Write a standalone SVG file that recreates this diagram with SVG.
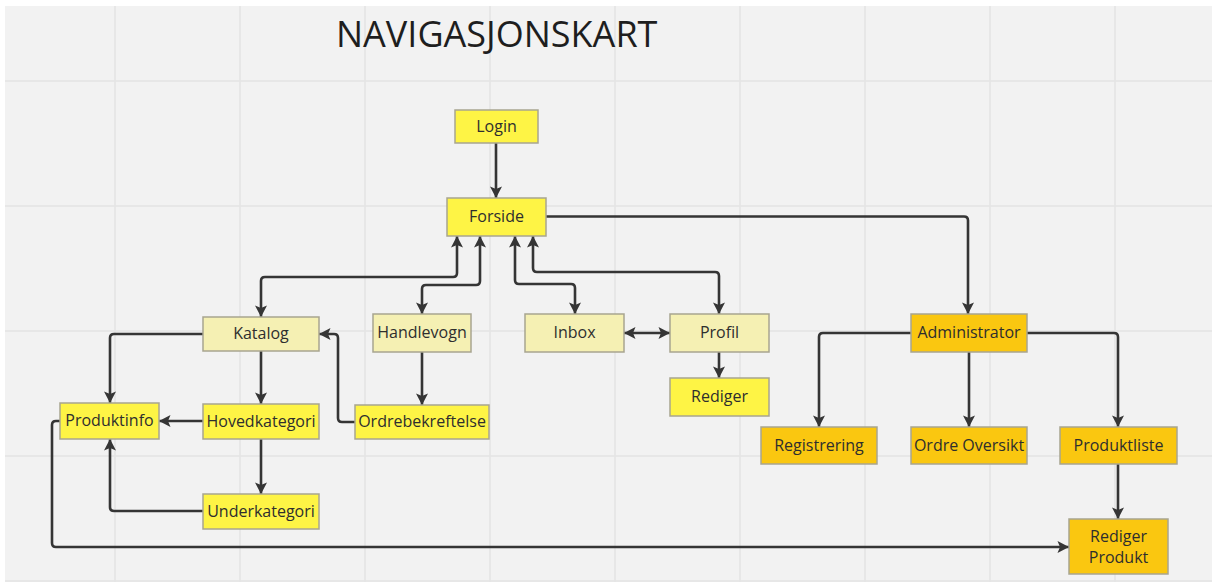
<svg xmlns="http://www.w3.org/2000/svg" width="1212" height="588" viewBox="0 0 1212 588">
<defs>
<style>
.bg{fill:#f2f2f2}
.grid{stroke:#e4e4e4;stroke-width:1.5}
.n rect{stroke:#a8a590;stroke-width:1.5}
.y rect{fill:#fef445}
.p rect{fill:#f5f0b3}
.o rect{fill:#fac710}
.n text{font-family:"Open Sans","Liberation Sans",sans-serif;font-size:16px;fill:#2e2e2e;text-anchor:middle}
.c path{fill:none;stroke:#353535;stroke-width:2.6;stroke-linejoin:round}
.title{font-family:"Open Sans","Liberation Sans",sans-serif;font-size:36px;fill:#1e1e1e}
</style>
<marker id="ah" markerUnits="userSpaceOnUse" markerWidth="14" markerHeight="14" viewBox="0 0 14 14" refX="12.5" refY="7" orient="auto-start-reverse">
<path d="M1,1 L12.5,7 L1,13 L3.5,7 z" fill="#353535"/>
</marker>
</defs>
<rect x="0" y="0" width="1212" height="588" fill="#ffffff"/>
<rect class="bg" x="5" y="6" width="1207" height="576"/>
<g class="grid">
<path d="M115 6V582M240 6V582M365 6V582M490 6V582M615 6V582M740 6V582M865 6V582M990 6V582M1115 6V582M5 81H1212M5 206H1212M5 331H1212M5 456H1212M5 581H1212"/>
</g>
<text class="title" x="336" y="47">NAVIGASJONSKART</text>
<g class="c" id="connectors">
<path d="M496 143V198" marker-end="url(#ah)"/>
<path d="M546 216.5H964Q968 216.5 968 220.5V314" marker-end="url(#ah)"/>
<path d="M457 236V273Q457 277 453 277H265Q261 277 261 281V317" marker-start="url(#ah)" marker-end="url(#ah)"/>
<path d="M480 236V281Q480 285 476 285H426Q422 285 422 289V314" marker-start="url(#ah)" marker-end="url(#ah)"/>
<path d="M515 236V280Q515 284 519 284H571Q575 284 575 288V314" marker-start="url(#ah)" marker-end="url(#ah)"/>
<path d="M533 236V268Q533 272 537 272H715Q719 272 719 276V314" marker-start="url(#ah)" marker-end="url(#ah)"/>
<path d="M624 333H670" marker-start="url(#ah)" marker-end="url(#ah)"/>
<path d="M719 352V378" marker-end="url(#ah)"/>
<path d="M203 334H114Q110 334 110 338V403" marker-end="url(#ah)"/>
<path d="M261 351V404" marker-end="url(#ah)"/>
<path d="M203 421H159" marker-end="url(#ah)"/>
<path d="M261 439V494" marker-end="url(#ah)"/>
<path d="M203 511H114Q110 511 110 507V439" marker-end="url(#ah)"/>
<path d="M422 352V405" marker-end="url(#ah)"/>
<path d="M355 422H342Q338 422 338 418V338Q338 334 334 334H319" marker-end="url(#ah)"/>
<path d="M60 421H56Q52 421 52 425V543Q52 547 56 547H1069" marker-end="url(#ah)"/>
<path d="M911 333H823Q819 333 819 337V427" marker-end="url(#ah)"/>
<path d="M969 352V427" marker-end="url(#ah)"/>
<path d="M1027 333H1114Q1118 333 1118 337V427" marker-end="url(#ah)"/>
<path d="M1118 464V519" marker-end="url(#ah)"/>
</g>
<g id="login" class="n y"><rect x="455" y="110" width="83" height="33"/><text x="496.5" y="132">Login</text></g>
<g id="forside" class="n y"><rect x="447" y="198" width="99" height="38"/><text x="496.5" y="222">Forside</text></g>
<g id="katalog" class="n p"><rect x="203" y="317" width="116" height="34"/><text x="261" y="339">Katalog</text></g>
<g id="handlevogn" class="n p"><rect x="373" y="314" width="98" height="38"/><text x="422" y="338">Handlevogn</text></g>
<g id="inbox" class="n p"><rect x="525" y="314" width="99" height="38"/><text x="574.5" y="338">Inbox</text></g>
<g id="profil" class="n p"><rect x="670" y="314" width="99" height="38"/><text x="719.5" y="338">Profil</text></g>
<g id="rediger" class="n y"><rect x="670" y="378" width="99" height="38"/><text x="719.5" y="402">Rediger</text></g>
<g id="produktinfo" class="n y"><rect x="60" y="403" width="99" height="36"/><text x="109.5" y="426">Produktinfo</text></g>
<g id="hovedkategori" class="n y"><rect x="203" y="404" width="116" height="35"/><text x="261" y="427">Hovedkategori</text></g>
<g id="ordrebekreftelse" class="n y"><rect x="355" y="405" width="134" height="34"/><text x="422" y="427">Ordrebekreftelse</text></g>
<g id="underkategori" class="n y"><rect x="203" y="494" width="116" height="35"/><text x="261" y="517">Underkategori</text></g>
<g id="administrator" class="n o"><rect x="911" y="314" width="116" height="38"/><text x="969" y="338">Administrator</text></g>
<g id="registrering" class="n o"><rect x="761" y="427" width="116" height="37"/><text x="819" y="451">Registrering</text></g>
<g id="ordre-oversikt" class="n o"><rect x="911" y="427" width="116" height="37"/><text x="969" y="451">Ordre Oversikt</text></g>
<g id="produktliste" class="n o"><rect x="1060" y="427" width="117" height="37"/><text x="1118.5" y="451">Produktliste</text></g>
<g id="rediger-produkt" class="n o"><rect x="1069" y="519" width="99" height="55"/><text x="1118.5" y="542">Rediger</text><text x="1118.5" y="563">Produkt</text></g>
</svg>
